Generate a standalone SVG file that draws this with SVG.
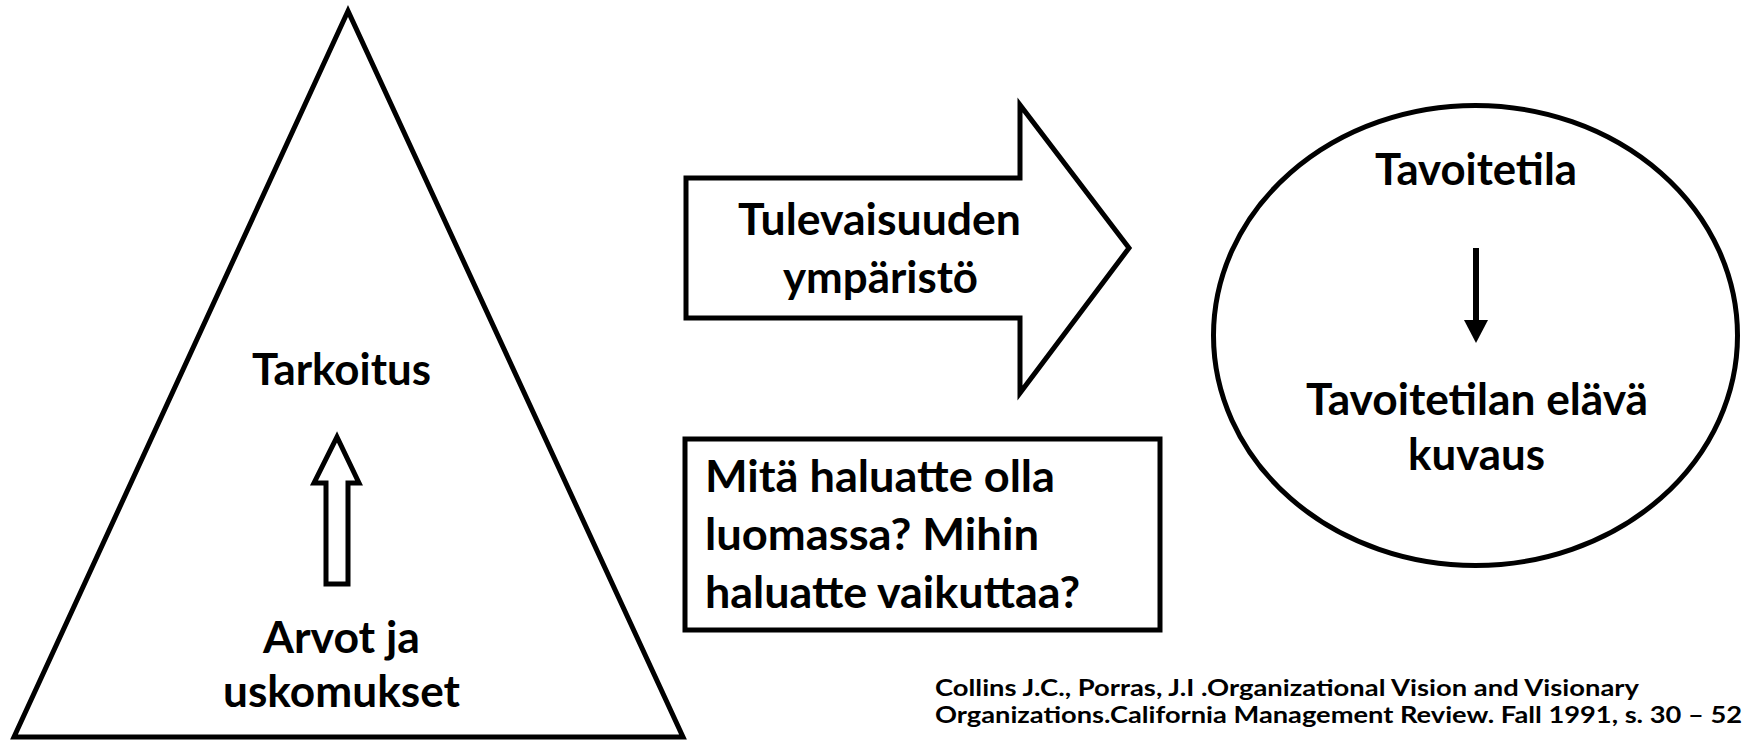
<svg xmlns="http://www.w3.org/2000/svg" width="1744" height="741" viewBox="0 0 1744 741">
<style>
.shape{fill:#fff;stroke:#000;stroke-width:5;stroke-linejoin:miter}
.t{font-family:Lato,"Open Sans","Liberation Sans",sans-serif;font-weight:700;font-size:43px;fill:#000}
.ref{font-family:Lato,"Open Sans","Liberation Sans",sans-serif;font-weight:700;font-size:22px;fill:#000}
</style>
<rect width="1744" height="741" fill="#fff"/>
<g id="triangle">
<polygon class="shape" points="348,11 14,737 683,737"/>
<text class="t" x="252" y="385" textLength="179" lengthAdjust="spacingAndGlyphs">Tarkoitus</text>
<text class="t" x="263" y="653" textLength="157" lengthAdjust="spacingAndGlyphs">Arvot ja</text>
<text class="t" x="223" y="707" textLength="237" lengthAdjust="spacingAndGlyphs">uskomukset</text>
</g>
<g id="future-arrow">
<polygon class="shape" points="686,178 1020,178 1020,105 1129,248 1020,393 1020,318 686,318"/>
<text class="t" x="738" y="235" textLength="283" lengthAdjust="spacingAndGlyphs">Tulevaisuuden</text>
<text class="t" x="783" y="293" textLength="195" lengthAdjust="spacingAndGlyphs">ympäristö</text>
</g>
<g id="question-box">
<rect class="shape" x="685" y="439" width="475" height="191"/>
<text class="t" x="705" y="492" textLength="350" lengthAdjust="spacingAndGlyphs">Mitä haluatte olla</text>
<text class="t" x="705" y="550" textLength="334" lengthAdjust="spacingAndGlyphs">luomassa? Mihin</text>
<text class="t" x="705" y="608" textLength="375" lengthAdjust="spacingAndGlyphs">haluatte vaikuttaa?</text>
</g>
<g id="goal-ellipse">
<ellipse class="shape" cx="1475.5" cy="335.5" rx="262" ry="230"/>
<text class="t" x="1375" y="185" textLength="202" lengthAdjust="spacingAndGlyphs">Tavoitetila</text>
<text class="t" x="1306" y="415" textLength="342" lengthAdjust="spacingAndGlyphs">Tavoitetilan elävä</text>
<text class="t" x="1408" y="470" textLength="137" lengthAdjust="spacingAndGlyphs">kuvaus</text>
</g>
<g id="connectors">
<polygon class="shape" points="337,437 359,483 348,483 348,584 326,584 326,483 314,483"/>
<line x1="1476" y1="248" x2="1476" y2="322" stroke="#000" stroke-width="6"/>
<polygon points="1464,320 1488,320 1476,343" fill="#000"/>
</g>
<g id="reference">
<text class="ref" x="935" y="696" textLength="704" lengthAdjust="spacingAndGlyphs">Collins J.C., Porras, J.I .Organizational Vision and Visionary</text>
<text class="ref" x="935" y="723" textLength="807" lengthAdjust="spacingAndGlyphs">Organizations.California Management Review. Fall 1991, s. 30 – 52</text>
</g>
</svg>
